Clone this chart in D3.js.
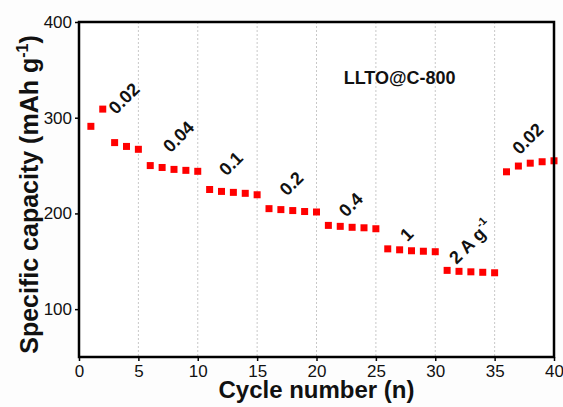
<html>
<head>
    <script src="https://d3js.org/d3.v7.min.js"></script>
</head>
<style>
    body { margin: 0; background: #fdfdfd; }
    text { font-family: "Liberation Sans", Arial, sans-serif; }
    .point { fill: #ff0000; }
    .grid line { stroke: #c8c8c8; stroke-dasharray: 2,2; stroke-width: 1; }
    .tick text { font-size: 17px; fill: #111; }
    .note { font-size: 18px; font-weight: bold; fill: #111; }
</style>
<body>
<svg width="563" height="407"></svg>
<script>

    // cycle number and capacity (mAh g-1)
    var cycles = d3.range(1, 41);
    var capacity = [291, 309, 274, 270, 267, 250, 248, 246, 245, 244,
                    225, 223, 222, 221, 219.5, 205, 204, 203, 202, 201.5,
                    187.5, 186.5, 185.5, 185, 184, 163, 162, 161, 160.5, 160,
                    140.5, 139.5, 139, 138.5, 138, 243.5, 249.5, 252.5, 254, 255];

    var xTicks = [0, 5, 10, 15, 20, 25, 30, 35, 40];
    var yTicks = [100, 200, 300, 400];

    // current density labels, placed in data units
    var rateLabels = ["0.02", "0.04", "0.1", "0.2", "0.4", "1", "2 A g", "0.02"];
    var rateX = [3.8, 8.4, 12.8, 17.9, 22.9, 27.6, 33.0, 37.8];
    var rateY = [320, 280, 252, 231, 209, 178, 170, 278];

    var svg = d3.select("svg"),
        margin = {left: 79, top: 22, right: 9, bottom: 50},
        width = svg.attr("width") - margin.left - margin.right,
        height = svg.attr("height") - margin.top - margin.bottom;

    var xScale = d3.scaleLinear().domain([0, 40]).range([0, width]),
        yScale = d3.scaleLinear().domain([50, 400]).range([height, 0]);

    var g = svg.append("g")
               .attr("transform", "translate(" + margin.left + "," + margin.top + ")");

    g.append("rect").attr("width", width).attr("height", height).attr("fill", "#fff");

    // dotted vertical grid
    g.append("g")
     .attr("class", "grid")
     .selectAll("line")
     .data(xTicks.slice(1, -1))
     .enter().append("line")
     .attr("x1", function(d) { return xScale(d); })
     .attr("x2", function(d) { return xScale(d); })
     .attr("y1", 0)
     .attr("y2", height);

    g.selectAll(".point")
     .data(cycles)
     .enter().append("rect")
     .attr("class", "point")
     .attr("x", function(d) { return xScale(d) - 3.5; })
     .attr("y", function(d, i) { return yScale(capacity[i]) - 3.5; })
     .attr("width", 7)
     .attr("height", 7);

    var xAxis = g.append("g")
     .attr("transform", "translate(0," + height + ")")
     .call(d3.axisBottom(xScale).tickValues(xTicks).tickSize(4).tickPadding(4));

    var yAxis = g.append("g")
     .call(d3.axisLeft(yScale).tickValues(yTicks).tickSize(4).tickPadding(3));

    [xAxis, yAxis].forEach(function(a) {
        a.select(".domain").remove();
        a.selectAll(".tick line").attr("stroke", "#000").attr("stroke-width", 1.5);
    });

    // frame
    g.append("rect")
     .attr("width", width)
     .attr("height", height)
     .attr("fill", "none")
     .attr("stroke", "#000")
     .attr("stroke-width", 2.5);

    g.selectAll(".rate")
     .data(rateLabels)
     .enter().append("text")
     .attr("class", "note")
     .attr("text-anchor", "middle")
     .attr("dominant-baseline", "central")
     .attr("transform", function(d, i) {
         return "translate(" + xScale(rateX[i]) + "," + yScale(rateY[i]) + ") rotate(-45)";
     })
     .each(function(d) {
         var t = d3.select(this);
         t.append("tspan").text(d);
         if (d === "2 A g") {
             t.append("tspan").attr("font-size", "11px").attr("dy", "-7").text("-1");
         }
     });

    g.append("text")
     .attr("x", xScale(27))
     .attr("y", yScale(341))
     .attr("text-anchor", "middle")
     .attr("dominant-baseline", "central")
     .attr("font-size", "18px")
     .attr("font-weight", "bold")
     .attr("fill", "#111")
     .text("LLTO@C-800");

    svg.append("text")
     .attr("x", margin.left + width / 2)
     .attr("y", 398)
     .attr("text-anchor", "middle")
     .attr("font-size", "24px")
     .attr("font-weight", "bold")
     .attr("fill", "#111")
     .text("Cycle number (n)");

    var yt = svg.append("text")
     .attr("transform", "translate(38," + (margin.top + height / 2 + 5) + ") rotate(-90)")
     .attr("text-anchor", "middle")
     .attr("font-size", "25px")
     .attr("font-weight", "bold")
     .attr("fill", "#111");
    yt.append("tspan").text("Specific capacity (mAh g");
    yt.append("tspan").attr("font-size", "16px").attr("dy", "-10").text("-1");
    yt.append("tspan").attr("dy", "10").text(")");

</script>
</body>
</html>
